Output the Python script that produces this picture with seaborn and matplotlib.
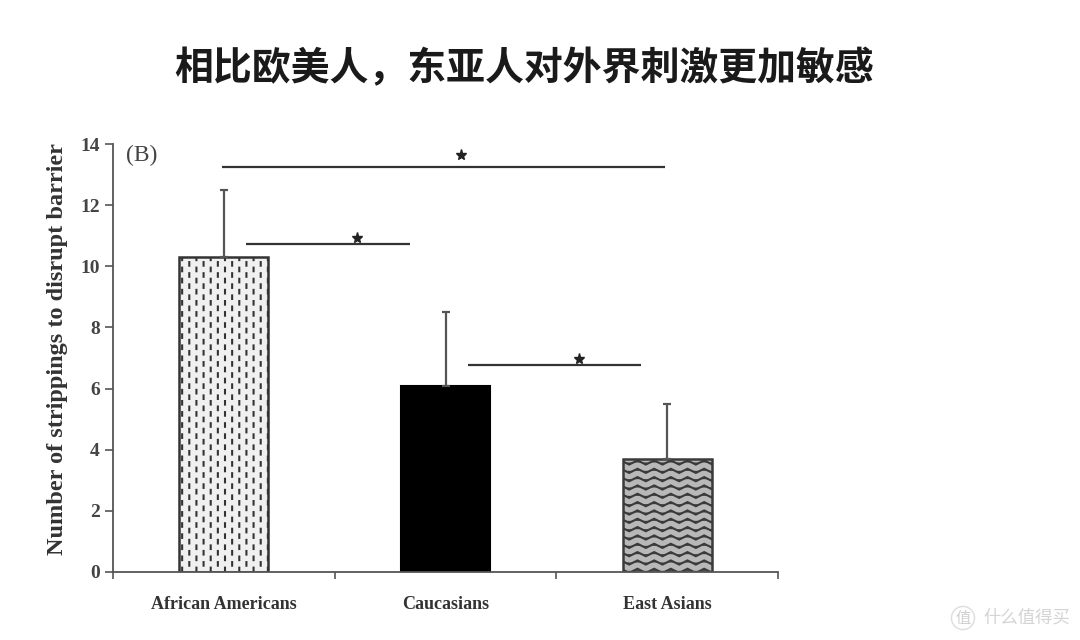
import numpy as np
import pandas as pd
import matplotlib
matplotlib.use('Agg')
import matplotlib.pyplot as plt
import matplotlib.hatch as mhatch
from matplotlib.path import Path
import seaborn as sns

# Values
groups = ['African Americans', 'Caucasians', 'East Asians']
means = [10.3, 6.1, 3.7]
upper = [12.5, 8.5, 5.5]
title_text = '相比欧美人，东亚人对外界刺激更加敏感'
ylabel_text = 'Number of strippings to disrupt barrier'
panel_label = '(B)'
watermark = '什么值得买'
# significance lines: x start, x end, height
sig_start = [-0.01, 0.10, 1.10]
sig_end = [1.99, 0.84, 1.88]
sig_y = [13.25, 10.73, 6.77]
star_x = [1.07, 0.60, 1.60]
star_y = [13.65, 10.93, 6.98]


# matplotlib has no wavy or dash-dot hatch, so add them
class WaveHatch(mhatch.HatchPatternBase):
    periods = 6
    steps = 24

    def __init__(self, hatch, density):
        self.num_lines = hatch.count('w') * density
        self.num_vertices = self.num_lines * (self.steps + 1)

    def set_vertices_and_codes(self, vertices, codes):
        n = self.num_lines
        m = self.steps + 1
        xs = np.linspace(0, 1, m)
        ys = np.sin(xs * 2 * np.pi * self.periods) * 0.25 / n
        for i in range(n):
            vertices[i * m:(i + 1) * m, 0] = xs
            vertices[i * m:(i + 1) * m, 1] = ys + (i + 0.5) / n
            codes[i * m] = Path.MOVETO
            codes[i * m + 1:(i + 1) * m] = Path.LINETO


class DashHatch(mhatch.HatchPatternBase):
    cols = 7

    def __init__(self, hatch, density):
        self.num_rows = hatch.count('d') * density
        self.num_vertices = self.num_rows * self.cols * 2

    def set_vertices_and_codes(self, vertices, codes):
        k = 0
        for r in range(self.num_rows):
            for c in range(self.cols):
                x = (c + 0.25 + 0.5 * (r % 2)) / self.cols
                y = (r + 0.5) / self.num_rows
                vertices[k] = (x, y - 0.018)
                vertices[k + 1] = (x, y + 0.018)
                codes[k] = Path.MOVETO
                codes[k + 1] = Path.LINETO
                k += 2


mhatch._hatch_types.append(WaveHatch)
mhatch._hatch_types.append(DashHatch)

sns.set_style('ticks')
plt.rcParams['font.family'] = ['Liberation Serif', 'DejaVu Serif']
plt.rcParams['hatch.linewidth'] = 1.5

df = pd.DataFrame({'group': groups, 'mean': means, 'upper': upper})

fig = plt.figure(figsize=(10.8, 6.4), dpi=100)
ax = fig.add_axes([113 / 1080, 68 / 640, 665 / 1080, 428 / 640])

sns.barplot(x='group', y='mean', data=df, width=0.4, errorbar=None, ax=ax,
            color='white', saturation=1)

bars = ax.patches
bars[0].set(facecolor='#f0f0f0', edgecolor='#333333', hatch='ddd', linewidth=1.8)
bars[1].set(facecolor='black', edgecolor='black', linewidth=1.5)
bars[2].set(facecolor='#b8b8b8', edgecolor='#3a3a3a', hatch='ww', linewidth=1.8)

# upper error bars only
ax.errorbar(range(3), df['mean'], yerr=[np.zeros(3), df['upper'] - df['mean']],
            fmt='none', ecolor='#555555', elinewidth=1.6, capsize=3, capthick=1.6)

# significance bars and stars
for x0, x1, y in zip(sig_start, sig_end, sig_y):
    ax.plot([x0, x1], [y, y], color='#333333', lw=1.6, solid_capstyle='butt')
ax.plot(star_x, star_y, marker='*', color='#222222', ms=8, ls='none')

ax.set_xlim(-0.5, 2.5)
ax.set_ylim(0, 14)
ax.set_yticks(range(0, 15, 2))
ax.set_xticks([-0.5, 0.5, 1.5, 2.5])
ax.set_xticklabels([])
ax.set_xticks([0, 1, 2], minor=True)
ax.set_xticklabels(groups, minor=True, fontsize=13, fontweight='bold', color='#333333')
ax.tick_params(axis='x', which='minor', length=0, pad=17)
ax.tick_params(axis='x', which='major', length=5, width=1.2, color='#555555')
ax.tick_params(axis='y', length=6, width=1.2, color='#555555', labelsize=14, labelcolor='#444444')
for lab in ax.get_yticklabels():
    lab.set_fontweight('bold')
ax.set_xlabel('')
ax.set_ylabel(ylabel_text, fontsize=17.5, fontweight='bold', color='#333333')
ax.yaxis.set_label_coords(-0.068, 0.52)
for side in ['left', 'bottom']:
    ax.spines[side].set_color('#555555')
    ax.spines[side].set_linewidth(1.3)
sns.despine(ax=ax)

ax.text(0.02, 0.973, panel_label, transform=ax.transAxes, fontsize=17,
        color='#444444', va='center')

fig.text(524 / 1080, 1 - 69 / 640, title_text, fontsize=28, ha='center', va='center',
         family=['Noto Sans CJK SC', 'DejaVu Sans'], fontweight='bold', color='#1a1a1a')
fig.text(1070 / 1080, 1 - 618 / 640, watermark, fontsize=12.5, ha='right', va='center',
         family=['Noto Sans CJK SC', 'DejaVu Sans'], color='#d4d4d4')
fig.text(963 / 1080, 1 - 618 / 640, '值', fontsize=11, ha='center', va='center',
         family=['Noto Sans CJK SC', 'DejaVu Sans'], color='#cfcfcf',
         bbox=dict(boxstyle='circle,pad=0.2', fc='white', ec='#dddddd', lw=1))

fig.savefig('out.png', dpi=100, facecolor='white')
